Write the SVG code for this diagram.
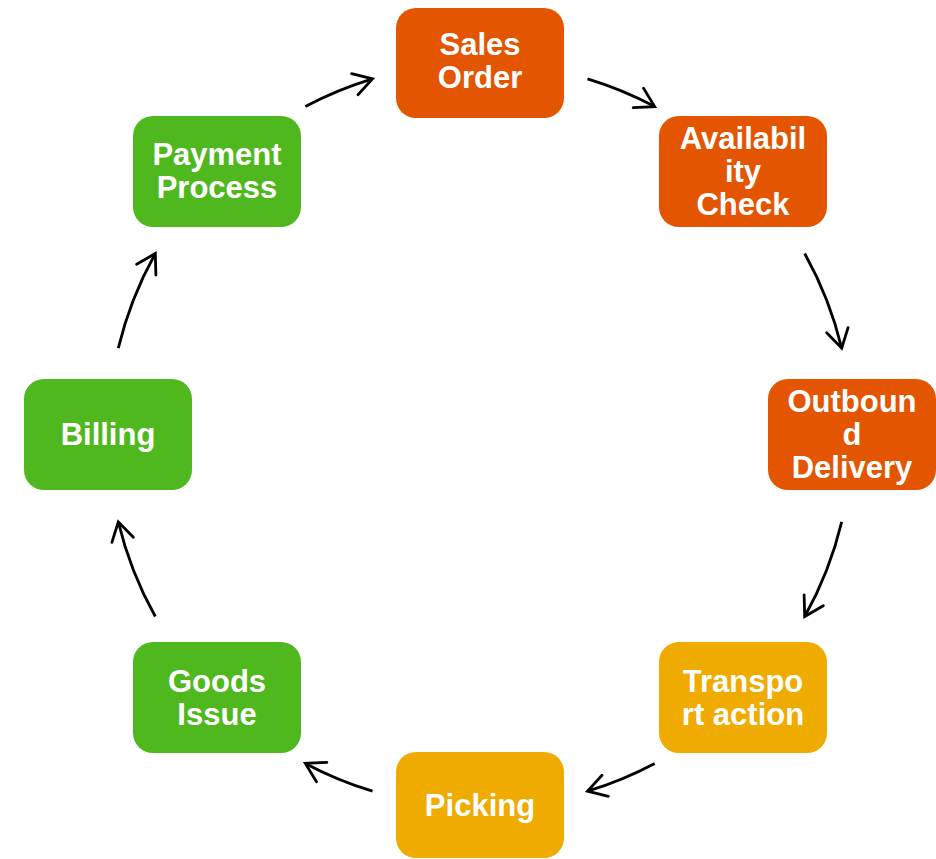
<svg xmlns="http://www.w3.org/2000/svg" width="936" height="859" viewBox="0 0 936 859">
<defs>
<marker id="ah" markerUnits="userSpaceOnUse" markerWidth="40" markerHeight="40" viewBox="-20 -20 40 40" refX="0" refY="0" orient="auto" overflow="visible">
<path d="M-18.5,-11 L0,0 L-18.5,11" fill="none" stroke="#000" stroke-width="2.8" stroke-linecap="round" stroke-linejoin="miter"/>
</marker>
<style>
.box{stroke:none}
.red{fill:#E35500}
.yel{fill:#F0AB00}
.grn{fill:#50B81F}
.lbl{font-family:"Liberation Sans",Arial,sans-serif;font-weight:bold;font-size:31px;fill:#fff;text-anchor:middle}
.arc{fill:none;stroke:#000;stroke-width:2.8;marker-end:url(#ah)}
</style>
</defs>
<rect width="936" height="859" fill="#fff"/>
<g id="connectors">
<path class="arc" d="M305.3,106.6 A372,372 0 0 1 372.5,78.9"/>
<path class="arc" d="M587.5,78.9 A372,372 0 0 1 654.7,106.6"/>
<path class="arc" d="M804.7,253.5 A372,372 0 0 1 841.7,348.2"/>
<path class="arc" d="M841.7,521.8 A372,372 0 0 1 804.7,616.5"/>
<path class="arc" d="M654.7,763.4 A372,372 0 0 1 587.5,791.1"/>
<path class="arc" d="M372.5,791.1 A372,372 0 0 1 305.3,763.4"/>
<path class="arc" d="M155.3,616.5 A372,372 0 0 1 118.3,521.8"/>
<path class="arc" d="M118.3,348.2 A372,372 0 0 1 155.3,253.5"/>
</g>
<g id="sales-order">
<rect class="box red" x="396" y="8" width="168" height="110" rx="20"/>
<text class="lbl" x="480" y="55">Sales</text>
<text class="lbl" x="480" y="88">Order</text>
</g>
<g id="availability-check">
<rect class="box red" x="659" y="116" width="168" height="111" rx="20"/>
<text class="lbl" x="743" y="149">Availabil</text>
<text class="lbl" x="743" y="182">ity</text>
<text class="lbl" x="743" y="215">Check</text>
</g>
<g id="outbound-delivery">
<rect class="box red" x="768" y="379" width="168" height="111" rx="20"/>
<text class="lbl" x="852" y="412">Outboun</text>
<text class="lbl" x="852" y="445">d</text>
<text class="lbl" x="852" y="478">Delivery</text>
</g>
<g id="transport-action">
<rect class="box yel" x="659" y="642" width="168" height="111" rx="20"/>
<text class="lbl" x="743" y="692">Transpo</text>
<text class="lbl" x="743" y="725">rt action</text>
</g>
<g id="picking">
<rect class="box yel" x="396" y="752" width="168" height="106" rx="20"/>
<text class="lbl" x="480" y="816">Picking</text>
</g>
<g id="goods-issue">
<rect class="box grn" x="133" y="642" width="168" height="111" rx="20"/>
<text class="lbl" x="217" y="692">Goods</text>
<text class="lbl" x="217" y="725">Issue</text>
</g>
<g id="billing">
<rect class="box grn" x="24" y="379" width="168" height="111" rx="20"/>
<text class="lbl" x="108" y="445">Billing</text>
</g>
<g id="payment-process">
<rect class="box grn" x="133" y="116" width="168" height="111" rx="20"/>
<text class="lbl" x="217" y="165">Payment</text>
<text class="lbl" x="217" y="198">Process</text>
</g>
</svg>
